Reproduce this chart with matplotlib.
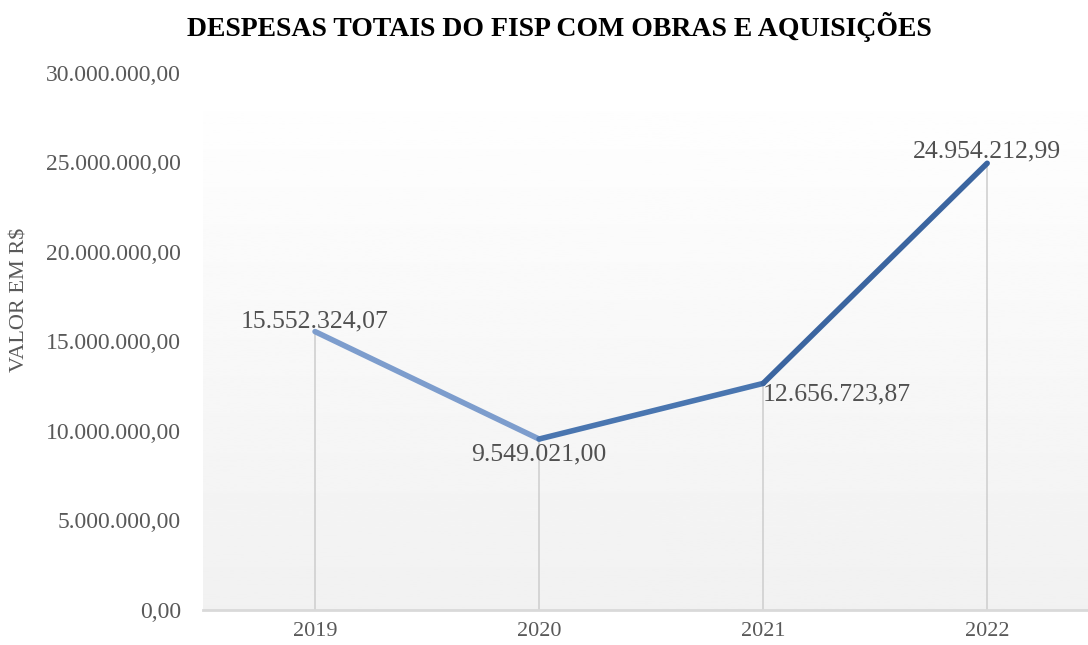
import numpy as np
import matplotlib.pyplot as plt
from matplotlib.collections import LineCollection
from matplotlib.ticker import FuncFormatter

# Data
anos = ['2019', '2020', '2021', '2022']
valores = [15552324.07, 9549021.00, 12656723.87, 24954212.99]
rotulos = ['15.552.324,07', '9.549.021,00', '12.656.723,87', '24.954.212,99']
y_ticks = [0, 5e6, 10e6, 15e6, 20e6, 25e6, 30e6]

plt.rcParams['font.family'] = ['Liberation Serif', 'DejaVu Serif']

def br(v, pos=None):
    s = f'{v:,.2f}'
    return s.replace(',', 'X').replace('.', ',').replace('X', '.')

fig = plt.figure(figsize=(10.88, 6.45), dpi=100)
ax = fig.add_axes([0.1866, 0.0543, 0.8134, 0.8326])

x = np.arange(len(anos))
ax.set_xlim(-0.5, 3.45)
ax.set_ylim(0, 30e6)

# gradient background (white on top -> light gray bottom)
grad = np.linspace(1.0, 0.945, 256).reshape(-1, 1)
ax.imshow(grad, extent=[-0.5, 3.45, 0, 30e6], aspect='auto', cmap='gray',
          vmin=0, vmax=1, origin='upper', zorder=0)

# drop lines
for xi, v in zip(x, valores):
    ax.plot([xi, xi], [0, v], color='#d0d0d0', lw=1.2, zorder=1)

# line with colour going from light to dark blue
pts = np.column_stack([x, valores])
segs = [pts[i:i + 2] for i in range(len(pts) - 1)]
lc = LineCollection(segs, colors=['#7d9dcd', '#4a76b0', '#3b65a0'], linewidths=4,
                    capstyle='round', joinstyle='round', zorder=3)
ax.add_collection(lc)

# data labels
lab_color = '#505050'
fs_lab = 18.5
ax.annotate(rotulos[0], (x[0], valores[0]), xytext=(0, -0.5), textcoords='offset points',
            ha='center', va='bottom', fontsize=fs_lab, color=lab_color)
ax.annotate(rotulos[1], (x[1], valores[1]), xytext=(0, -3), textcoords='offset points',
            ha='center', va='top', fontsize=fs_lab, color=lab_color)
ax.annotate(rotulos[2], (x[2], valores[2]), xytext=(0, 0), textcoords='offset points',
            ha='left', va='top', fontsize=fs_lab, color=lab_color)
ax.annotate(rotulos[3], (x[3], valores[3]), xytext=(0, 0.5), textcoords='offset points',
            ha='center', va='bottom', fontsize=fs_lab, color=lab_color)

ax.set_xticks(x)
ax.set_xticklabels(anos)
ax.set_yticks(y_ticks)
ax.yaxis.set_major_formatter(FuncFormatter(br))
ax.tick_params(axis='both', length=0, labelcolor='#595959')
ax.tick_params(axis='x', pad=9, labelsize=16)
ax.tick_params(axis='y', pad=16, labelsize=17)

for s in ['top', 'right', 'left']:
    ax.spines[s].set_visible(False)
ax.spines['bottom'].set_color('#d9d9d9')
ax.spines['bottom'].set_linewidth(2)

fig.text(0.01, 0.535, 'VALOR EM R$', rotation=90, ha='left', va='center',
         fontsize=16, color='#595959')
fig.text(0.514, 0.958, 'DESPESAS TOTAIS DO FISP COM OBRAS E AQUISIÇÕES',
         ha='center', va='center', fontsize=20, fontweight='bold', color='black')

plt.savefig('out.png', dpi=100)
